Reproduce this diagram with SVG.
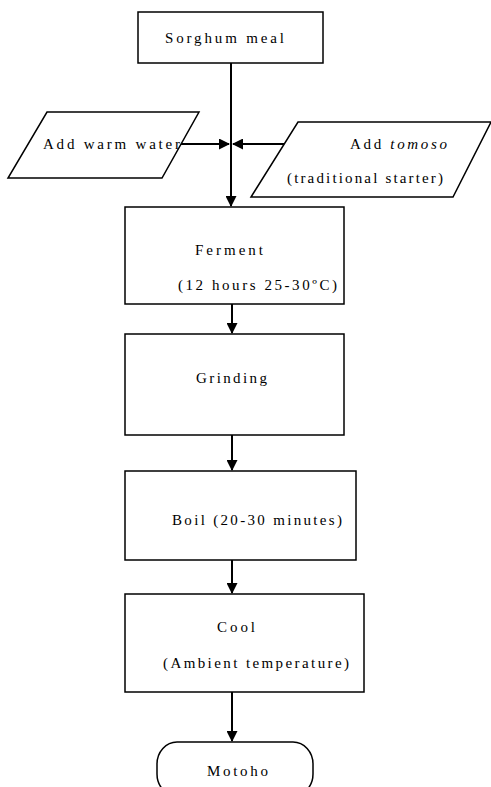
<svg xmlns="http://www.w3.org/2000/svg" width="491" height="787" viewBox="0 0 491 787">
<style>
.box{fill:#fff;stroke:#000;stroke-width:1.5}
.t{font-family:"Liberation Serif","DejaVu Serif","Times New Roman",serif;font-size:15px;fill:#000}
.c{stroke:#000;stroke-width:2;fill:none;marker-end:url(#ah)}
</style>
<defs>
<marker id="ah" markerWidth="11" markerHeight="11" refX="10" refY="5.5" orient="auto" markerUnits="userSpaceOnUse">
<path d="M0,0 L11,5.5 L0,11 Z" fill="#000"/>
</marker>
</defs>
<rect width="491" height="787" fill="#fff"/>
<g id="connectors">
<line class="c" x1="231" y1="63" x2="231" y2="206"/>
<line class="c" x1="180" y1="144" x2="229" y2="144"/>
<line class="c" x1="288" y1="144" x2="233" y2="144"/>
<line class="c" x1="232" y1="304" x2="232" y2="333"/>
<line class="c" x1="232" y1="435" x2="232" y2="470"/>
<line class="c" x1="232" y1="560" x2="232" y2="593"/>
<line class="c" x1="232" y1="692" x2="232" y2="741"/>
</g>
<g id="n-sorghum">
<rect class="box" x="138" y="12" width="185" height="51"/>
<text class="t" x="165" y="43" textLength="119" lengthAdjust="spacing">Sorghum meal</text>
</g>
<g id="n-water">
<polygon class="box" points="47,112 199,112 162,178 8,178"/>
<text class="t" x="43" y="149" textLength="137" lengthAdjust="spacing">Add warm water</text>
</g>
<g id="n-tomoso">
<polygon class="box" points="298,122 491,122 453,197 251,197"/>
<text class="t" x="350" y="149" textLength="97" lengthAdjust="spacing" xml:space="preserve">Add <tspan font-style="italic">tomoso</tspan></text>
<text class="t" x="287" y="183" textLength="156" lengthAdjust="spacing">(traditional starter)</text>
</g>
<g id="n-ferment">
<rect class="box" x="125" y="207" width="219" height="97"/>
<text class="t" x="195" y="255" textLength="68" lengthAdjust="spacing">Ferment</text>
<text class="t" x="178" y="290" textLength="159" lengthAdjust="spacing">(12 hours 25-30ºC)</text>
</g>
<g id="n-grinding">
<rect class="box" x="125" y="334" width="219" height="101"/>
<text class="t" x="196" y="383" textLength="71" lengthAdjust="spacing">Grinding</text>
</g>
<g id="n-boil">
<rect class="box" x="125" y="471" width="231" height="89"/>
<text class="t" x="172" y="525" textLength="170" lengthAdjust="spacing">Boil (20-30 minutes)</text>
</g>
<g id="n-cool">
<rect class="box" x="125" y="594" width="239" height="98"/>
<text class="t" x="217" y="632" textLength="38" lengthAdjust="spacing">Cool</text>
<text class="t" x="163" y="668" textLength="186" lengthAdjust="spacing">(Ambient temperature)</text>
</g>
<g id="n-motoho">
<rect class="box" x="157" y="742" width="156" height="54" rx="20" ry="22"/>
<text class="t" x="207" y="776" textLength="61" lengthAdjust="spacing">Motoho</text>
</g>
</svg>
